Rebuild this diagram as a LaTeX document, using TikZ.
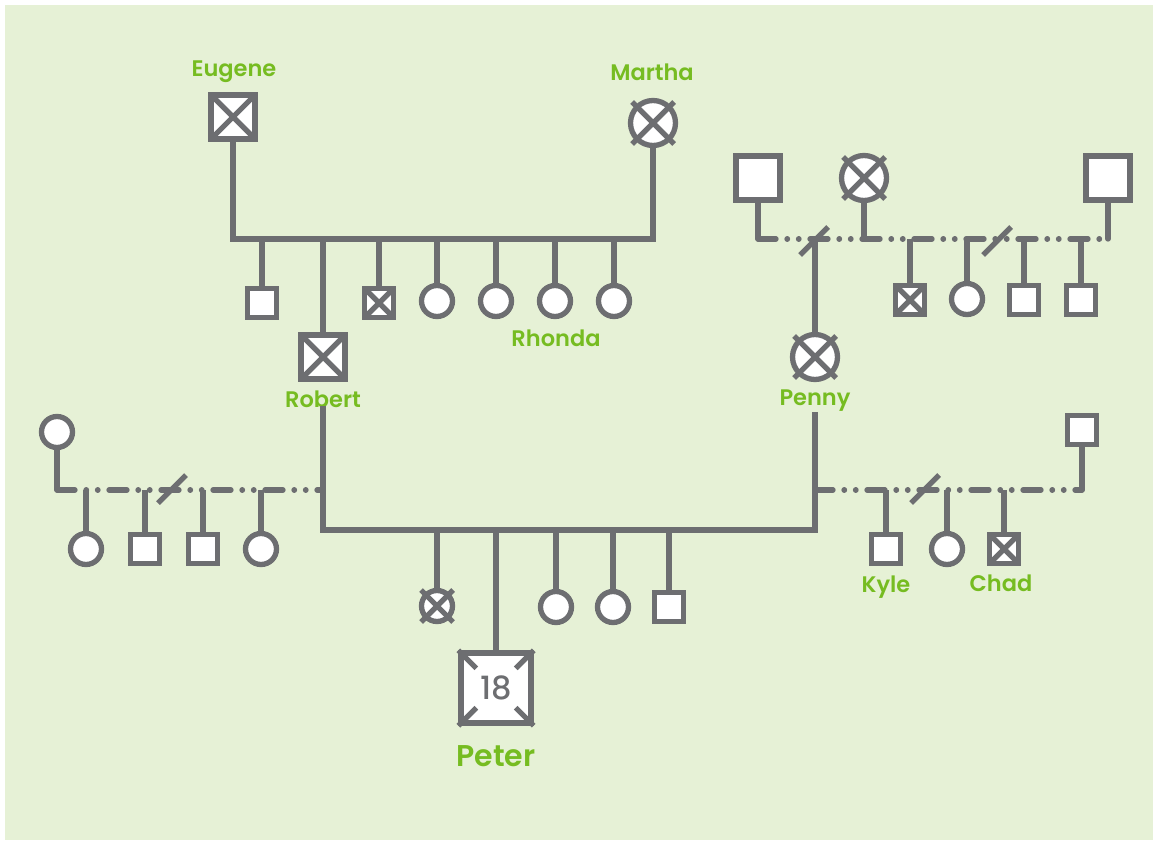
\documentclass[tikz,border=0pt]{standalone}
\usepackage{fontspec}
\setmainfont{Poppins}[UprightFont=* SemiBold]
\newfontfamily\numfont{Poppins}[UprightFont=* Medium]
\definecolor{bg}{HTML}{E6F1D6}
\definecolor{ink}{HTML}{6D6E71}
\definecolor{leaf}{HTML}{76BC21}
\newcommand\circx[2]{%
  \draw[lnk] ([shift={(-#2,-#2)}]#1.center) -- ([shift={(#2,#2)}]#1.center);
  \draw[lnk] ([shift={(#2,-#2)}]#1.center) -- ([shift={(-#2,#2)}]#1.center);}
\newcommand\divmark[1]{%
  \draw[lnk] ([shift={(-14,14)}]#1) -- ([shift={(14,-14)}]#1);}
\begin{document}
\begin{tikzpicture}[x=1pt,y=-1pt,
  lnk/.style={draw=ink, line width=5.3pt},
  rel/.style={draw=ink, line width=5.3pt, line cap=round,
    dash pattern=on 18pt off 11pt on 0.5pt off 11pt on 0.5pt off 11pt},
  person/.style={draw=ink, fill=white, line width=5.3pt, inner sep=0pt},
  male/.style={person, rectangle, minimum size=29pt},
  bigmale/.style={person, rectangle, minimum size=44pt},
  female/.style={person, circle, minimum size=31pt},
  bigfemale/.style={person, circle, minimum size=45pt},
  dead/.style={path picture={
    \draw[ink, line width=5.3pt]
      (path picture bounding box.north west) -- (path picture bounding box.south east)
      (path picture bounding box.north east) -- (path picture bounding box.south west);}},
  lbl/.style={text=leaf, inner sep=1pt, font=\fontsize{22.5}{22.5}\selectfont},
]
% canvas
\fill[white] (0,0) rectangle (1155,842);
\fill[bg] (5,5) rectangle (1153,840);

% ---------- paternal grandparents ----------
\node[bigmale, dead] (eugene) at (233,117) {};
\node[lbl] at (234,72) {Eugene};
\node[bigfemale] (martha) at (653,123) {};
\circx{martha}{21}
\node[lbl] at (652,72) {Martha};
\coordinate (gl) at (233,239);
\coordinate (gr) at (653,239);
\draw[lnk] (eugene) -- (gl) -- (gr) -- (martha);

\node[male] (p1) at (262,303) {};
\node[bigmale, dead] (robert) at (323,357) {};
\node[male, dead] (p3) at (379,303) {};
\node[female] (p4) at (437,301) {};
\node[female] (p5) at (496,301) {};
\node[female] (rhonda) at (555,301) {};
\node[female] (p7) at (614,301) {};
\node[lbl] (robname) at (323,399) {Robert};
\node[lbl] at (556,338) {Rhonda};
\foreach \c in {p1,robert,p3,p4,p5,rhonda,p7}
  \draw[lnk] (\c) -- (\c |- gl);

% ---------- maternal grandparents ----------
\node[bigmale] (mgf) at (758,178) {};
\node[bigfemale] (mgm) at (864,178) {};
\circx{mgm}{21}
\node[bigmale] (mgs) at (1108,178) {};
\coordinate (ml) at (758,239);
\coordinate (mr) at (1108,239);
\draw[lnk, line cap=round] (mgf) -- (ml);
\draw[lnk, line cap=round] (mgs) -- (mr);
\draw[rel] (ml) -- (mr);
\draw[lnk] (mgm) -- (mgm |- ml);
\coordinate (d1) at (814,241);
\coordinate (d2) at (997,241);
\divmark{d1}
\divmark{d2}

\node[bigfemale] (penny) at (815,357) {};
\circx{penny}{21}
\node[lbl] (penname) at (815,401) {Penny};
\draw[lnk] (penny) -- (penny |- ml);

\node[male, dead] (m1) at (910,300) {};
\node[female] (m2) at (967,299) {};
\node[male] (m3) at (1024,300) {};
\node[male] (m4) at (1081,300) {};
\foreach \c in {m1,m2,m3,m4}
  \draw[lnk] (\c) -- (\c |- ml);

% ---------- father's other union ----------
\node[female] (lw) at (57,432) {};
\coordinate (ll) at (57,490);
\coordinate (lr) at (323,490);
\draw[lnk, line cap=round] (lw) -- (ll);
\draw[rel] (ll) -- (lr);
\coordinate (d3) at (172,489);
\divmark{d3}
\node[female] (l1) at (86,549) {};
\node[male] (l2) at (145,549) {};
\node[male] (l3) at (203,549) {};
\node[female] (l4) at (261,549) {};
\foreach \c in {l1,l2,l3,l4}
  \draw[lnk] (\c) -- (\c |- ll);

% ---------- mother's other union ----------
\node[male] (rh) at (1082,430) {};
\coordinate (rl) at (815,490);
\coordinate (rr) at (1082,490);
\draw[lnk, line cap=round] (rh) -- (rr);
\draw[rel] (rl) -- (rr);
\coordinate (d4) at (925,489);
\divmark{d4}
\node[male] (kyle) at (886,549) {};
\node[female] (r2) at (947,549) {};
\node[male, dead] (chad) at (1004,549) {};
\node[lbl] at (886,587) {Kyle};
\node[lbl] at (1001,583) {Chad};
\foreach \c in {kyle,r2,chad}
  \draw[lnk] (\c) -- (\c |- rl);

% ---------- parents and their children ----------
\coordinate (sl) at (323,530);
\coordinate (sr) at (815,530);
\draw[lnk] ([yshift=3pt]robname.south) -- (sl) -- (sr) -- ([yshift=1pt]penname.south);

\node[female] (s1) at (437,606) {};
\circx{s1}{16}
\node[person, rectangle, minimum size=70pt, text=ink,
      font=\numfont\fontsize{32}{32}\selectfont] (peter) at (496,688) {18};
\foreach \a/\b in {north west/{(18,18)}, north east/{(-18,18)},
                   south west/{(18,-18)}, south east/{(-18,-18)}}
  \draw[lnk] (peter.\a) -- ++\b;
\node[lbl, font=\fontsize{30}{30}\selectfont] at (496,756) {Peter};
\node[female] (s3) at (556,607) {};
\node[female] (s4) at (613,607) {};
\node[male] (s5) at (669,607) {};
\foreach \c in {s1,peter,s3,s4,s5}
  \draw[lnk] (\c) -- (\c |- sl);
\end{tikzpicture}
\end{document}
